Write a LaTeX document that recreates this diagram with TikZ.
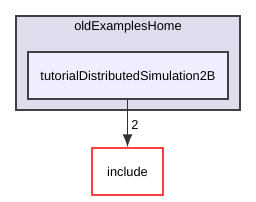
\documentclass[tikz,border=0pt]{standalone}
\usepackage{fontspec}
\setmainfont{Liberation Sans}
\usepackage{xcolor}
\usetikzlibrary{arrows.meta,positioning}
\definecolor{clusterfill}{HTML}{DDDDEE}
\definecolor{dirfill}{HTML}{EEEEFF}
\definecolor{edgegray}{HTML}{404040}
\definecolor{incred}{HTML}{FF4040}

\begin{document}
\begin{tikzpicture}[x=1pt,y=-1pt,font=\fontsize{12.8}{15}\selectfont,
  cluster/.style={draw=edgegray,fill=clusterfill,line width=1.3pt},
  dirbox/.style={draw=edgegray,fill=dirfill,line width=1.3pt,minimum width=200pt,minimum height=47pt},
  incbox/.style={draw=incred,fill=white,line width=1.3pt,minimum width=71pt,minimum height=47pt},
  dep/.style={-{Latex[length=13pt,width=10pt]},draw=black!80,line width=1.8pt}]
\useasboundingbox (0,0) rectangle (256,201);
\path[cluster] (16,16) rectangle (240,110);
\node (home) at (128,27) {oldExamplesHome};
\node[dirbox] (tut) at (128,75.5) {tutorialDistributedSimulation2B};
\node[incbox] (inc) at (127.5,171.5) {include};
\draw[dep] (tut.south-|inc) -- node[right,inner sep=3pt,yshift=-2pt] {2} (inc.north);
\end{tikzpicture}
\end{document}
